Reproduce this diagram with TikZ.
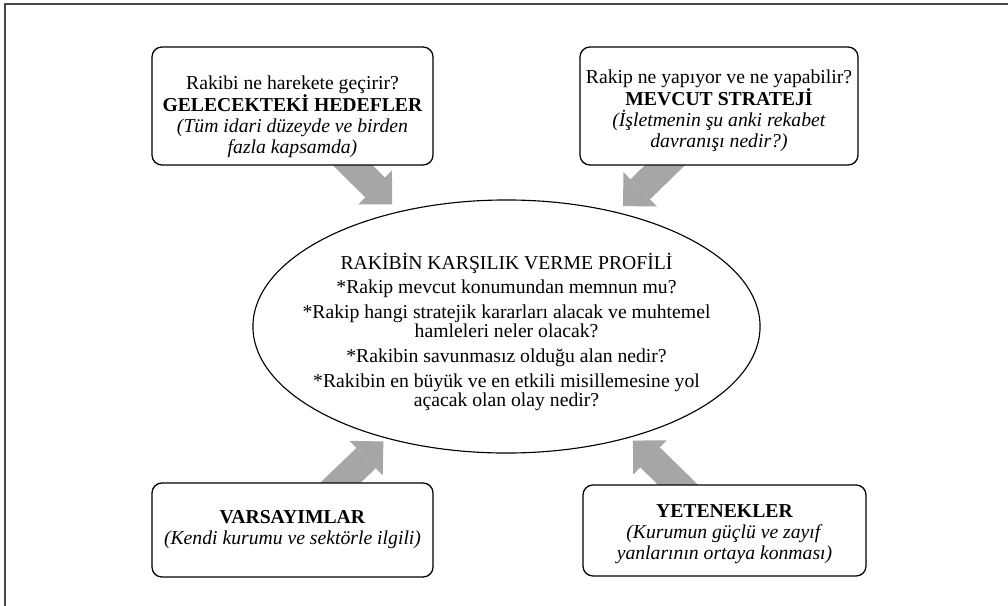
\documentclass[tikz,border=0pt]{standalone}
\usepackage{fontspec}
\setmainfont{Liberation Serif}
\usepackage{tikz}
\usetikzlibrary{shapes.geometric,arrows.meta,backgrounds}

\begin{document}
\begin{tikzpicture}[x=0.025cm,y=-0.025cm]

	\definecolor{okgri}{RGB}{166,166,166}
	\definecolor{cerceve}{RGB}{70,70,70}

	\tikzstyle{kalinok} = [draw=okgri,line width=0.7cm,-{Triangle[width=1.2cm,length=0.6cm,line width=0pt]}]
	\tikzstyle{metin} = [align=center,inner sep=0pt,font=\fontsize{14pt}{14.9pt}\selectfont]
	\useasboundingbox (0,0) rectangle (1008,606);
	\draw[cerceve,line width=0.05cm] (5,606) -- (5,4) -- (1008,4);

	\tikzset{kutu/.style = {draw,rounded corners=0.25cm,line width=0.9pt,fill=white}}
	\node[kutu,minimum width=7.025cm,minimum height=2.95cm] (hedef) at (292.5,106) {};
	\node[kutu,minimum width=6.95cm,minimum height=2.95cm] (strateji) at (719,106) {};
	\node[kutu,minimum width=7.025cm,minimum height=2.35cm] (varsayim) at (292.5,530) {};
	\node[kutu,minimum width=7.075cm,minimum height=2.275cm] (yetenek) at (724.5,530.5) {};

	\node[metin] (hedefmetin) at ([yshift=-0.27cm]hedef.center) {Rakibi ne harekete geçirir?\\ \textbf{GELECEKTEKİ HEDEFLER}\\ \textit{(Tüm idari düzeyde ve birden}\\ \textit{fazla kapsamda)}};
	\node[metin] (stratejimetin) at ([yshift=-0.12cm]strateji.center) {Rakip ne yapıyor ve ne yapabilir?\\ \textbf{MEVCUT STRATEJİ}\\ \textit{(İşletmenin şu anki rekabet}\\ \textit{davranışı nedir?)}};
	\node[metin] (varsayimmetin) at (varsayim.center) {\textbf{VARSAYIMLAR}\\ \textit{(Kendi kurumu ve sektörle ilgili)}};
	\node[metin] (yetenekmetin) at ([yshift=-0.1cm]yetenek.center) {\textbf{YETENEKLER}\\ \textit{(Kurumun güçlü ve zayıf}\\ \textit{yanlarının ortaya konması)}};

	\tikzset{kutu/.style = {draw,ellipse,line width=0.8pt,inner sep=0pt,minimum width=12.675cm,minimum height=6.325cm}}
	\node[kutu] (profil) at (506.5,326.5) {};
	\node[metin,font=\fontsize{14pt}{13.6pt}\selectfont] (profilmetin) at ([yshift=-0.13cm]profil.center) {RAKİBİN KARŞILIK VERME PROFİLİ\\[4pt] *Rakip mevcut konumundan memnun mu?\\[4pt] *Rakip hangi stratejik kararları alacak ve muhtemel\\ hamleleri neler olacak?\\[4pt] *Rakibin savunmasız olduğu alan nedir?\\[4pt] *Rakibin en büyük ve en etkili misillemesine yol\\ açacak olan olay nedir?};

	\begin{scope}[on background layer]
	\draw[kalinok] ([shift={(39.5,-21)}]hedef.south) to ([shift={(-7,-7)}]profil.133);
	\draw[kalinok] ([shift={(-35,-19)}]strateji.south) to ([shift={(6,-6)}]profil.46);
	\draw[kalinok] ([shift={(27.5,20)}]varsayim.north) to ([shift={(-3,3)}]profil.223);
	\draw[kalinok] ([shift={(-26.5,20)}]yetenek.north) to ([shift={(3,3)}]profil.318);
	\end{scope}
\end{tikzpicture}
\end{document}
